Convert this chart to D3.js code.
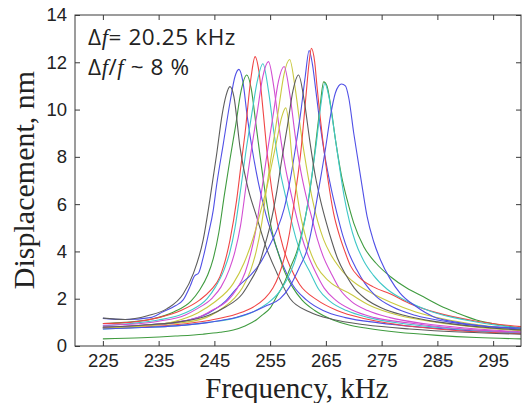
<!DOCTYPE html>
<html><head><meta charset="utf-8">
<script src="https://cdnjs.cloudflare.com/ajax/libs/d3/7.8.5/d3.min.js"></script>
<style>html,body{margin:0;padding:0;background:#fff;}svg{display:block;}</style>
</head><body>
<svg id="chart" width="528" height="403"></svg>
<script>
// ---- data (frequency kHz, displacement nm) ----
const xTicks = [225,235,245,255,265,275,285,295];
const yTicks = [0,2,4,6,8,10,12,14];
const seriesNames = ["b1","g1","r1","c1","m1","y1","k1","b2","g2","r2","c2","m2","y2","k2","b3"];
const seriesColors = ["#5050e6","#3f9b3f","#f04545","#40c8c8","#d24ed2","#c9c940","#5c5c5c",
                      "#5050e6","#3f9b3f","#f04545","#40c8c8","#d24ed2","#c9c940","#5c5c5c","#5050e6"];
const b1 = [[225,1.17],[229,1.12],[233.5,1.2],[235.8,1.45],[238,1.7],[239.4,1.95],[240.6,2.5],[241.4,2.95],[242.2,3.1],[243,3.75],[243.9,4.7],[244.8,5.75],[245.4,6.8],[246.6,8.55],[247.8,10.3],[248.7,11.4],[249.4,11.7],[250.1,11.2],[250.9,9.7],[251.8,8.3],[252.9,6.9],[254.2,5.6],[255.5,4.6],[257,3.6],[259,2.6],[261.5,1.95],[264.5,1.5],[268.5,1.2],[274.5,0.98],[282,0.8],[290,0.66],[300,0.56]];
const g1 = [[225,0.95],[229,1.0],[234,1.15],[237.8,1.45],[240.8,1.9],[242.3,2.35],[243.8,3.0],[244.8,3.7],[245.8,4.8],[246.8,6.4],[247.8,7.9],[248.8,9.3],[249.8,10.8],[250.8,11.46],[251.6,10.9],[252.5,9.3],[253.5,7.5],[254.5,5.9],[255.5,4.7],[256.5,3.9],[257.5,3.2],[259,2.5],[260.7,1.95],[263,1.5],[266.3,1.1],[269,0.9],[272.4,0.75],[278,0.58],[285,0.45],[292,0.36],[300,0.3]];
const r1 = [[225,0.95],[230,1.0],[235,1.2],[239,1.5],[242.4,1.95],[244.3,2.35],[246,2.93],[247.8,4.48],[249,6.18],[249.7,7.5],[250.5,9.0],[251.6,11.4],[252.3,12.24],[253,11.6],[253.8,9.8],[254.4,8.3],[255.3,6.6],[256.3,5.2],[257.3,4.2],[258.6,3.35],[260.3,2.6],[263.4,1.95],[267,1.5],[272,1.15],[278,0.9],[285,0.72],[292,0.6],[300,0.52]];
const c1 = [[225,0.85],[230,0.95],[235,1.1],[238.7,1.3],[240.7,1.5],[243.7,2.0],[245.2,2.5],[246.7,3.2],[247.7,3.9],[248.7,5.0],[249.7,6.6],[250.7,8.3],[251.7,9.8],[252.7,11.2],[253.7,11.94],[254.7,10.8],[255.7,9.0],[256.7,7.5],[257.7,6.4],[258.7,5.4],[259.7,4.5],[260.7,3.8],[262.2,3.1],[263.7,2.4],[265.7,1.9],[268.7,1.5],[272.7,1.2],[278.7,0.95],[285.7,0.78],[292,0.66],[300,0.58]];
const m1 = [[225,0.88],[230,0.92],[235,1.05],[239.7,1.3],[241.7,1.55],[244.7,2.05],[246.2,2.5],[247.7,3.25],[248.7,4.0],[249.7,5.1],[250.7,6.8],[251.7,8.4],[252.7,9.9],[253.7,11.4],[254.7,12.03],[255.7,10.9],[256.7,9.1],[257.7,7.6],[258.7,6.5],[259.7,5.5],[260.7,4.6],[261.7,3.9],[263.2,3.1],[264.7,2.45],[266.7,1.95],[269.7,1.52],[273.7,1.2],[279.7,0.98],[286.7,0.78],[293,0.66],[300,0.58]];
const y1 = [[225,0.78],[232,0.85],[238,0.95],[243.5,1.2],[245.5,1.45],[248.5,2.0],[250,2.45],[251.5,3.2],[252.5,4.0],[253.5,5.2],[254.5,6.9],[255.5,8.5],[256.5,10.0],[257.5,11.5],[258.5,12.12],[259.5,10.9],[260.5,9.1],[261.5,7.6],[262.5,6.3],[263.5,5.3],[264.6,4.5],[265.8,3.9],[267.5,3.3],[269,2.9],[270.6,2.6],[273.5,2.2],[276.6,1.85],[281,1.45],[287,1.1],[293,0.88],[300,0.7]];
const k1 = [[225,1.18],[229,1.12],[233,1.28],[236.5,1.58],[239.4,2.2],[241.2,3.05],[243,4.5],[244.2,6.2],[245.4,8.1],[246.4,9.8],[247.1,10.6],[247.8,10.97],[248.5,10.55],[249.6,8.4],[250.8,6.9],[252.6,5.45],[254.4,4.1],[256.2,3.1],[258.6,2.0],[262,1.45],[266.3,1.12],[272,0.9],[280,0.72],[290,0.58],[300,0.5]];
const b2 = [[225,0.78],[232,0.88],[238,1.0],[244,1.4],[247,1.9],[249.6,2.6],[251.5,3.0],[253.2,3.5],[254.8,4.2],[256.2,4.9],[257.5,5.8],[258.5,6.9],[259.5,8.3],[260.5,9.9],[261.3,11.4],[262,12.5],[262.6,11.9],[263.2,10.8],[264,9.3],[265,7.8],[266,6.6],[267,5.6],[268,4.7],[269,4.0],[270.5,3.25],[272,2.65],[274,2.1],[277,1.65],[281,1.3],[287,1.02],[294,0.82],[300,0.72]];
const g2 = [[225,0.3],[232,0.35],[238,0.42],[243,0.5],[246,0.58],[248.4,0.68],[250.5,0.85],[252.5,1.1],[253.8,1.35],[255,1.6],[256.2,2.1],[257.4,2.6],[258.6,3.3],[259.8,4.0],[260.8,4.9],[261.6,5.8],[262.4,7.0],[263.2,8.6],[263.9,10.0],[264.6,11.17],[265.2,11.0],[265.9,10.1],[266.8,8.6],[267.8,7.2],[268.8,6.2],[270,5.2],[271.8,4.2],[274,3.5],[276.6,2.93],[279.5,2.45],[282.5,2.08],[285.5,1.7],[288.5,1.4],[292,1.1],[296,0.9],[300,0.76]];
const r2 = [[225,0.75],[232,0.8],[238,0.9],[244,1.08],[249,1.35],[252,1.65],[254,2.0],[255.5,2.45],[256.5,2.95],[257.5,3.7],[258.5,4.8],[259.5,6.4],[260.5,8.2],[261.4,10.5],[262,12.0],[262.4,12.59],[263,12.0],[263.4,11.0],[264.4,8.8],[265.4,7.0],[266.4,5.6],[267.4,4.7],[268.4,4.0],[269.4,3.4],[271,2.9],[273.5,2.5],[276.6,2.2],[280,1.8],[285,1.4],[292,1.05],[300,0.82]];
const c2 = [[225,0.72],[232,0.78],[238,0.85],[244,1.0],[249,1.2],[252,1.45],[254.5,1.8],[256.5,2.25],[258,2.8],[259.3,3.5],[260.3,4.3],[261.3,5.4],[262.3,6.9],[263.3,8.6],[264.1,10.2],[264.8,11.1],[265.5,10.6],[266.3,9.4],[267.3,7.8],[268.3,6.3],[269.3,5.2],[270.3,4.4],[271.8,3.6],[273.5,3.0],[276,2.4],[279.5,1.9],[284,1.45],[290,1.1],[295,0.9],[300,0.75]];
const m2 = [[225,0.8],[232,0.88],[238,1.0],[242.5,1.25],[244.5,1.5],[247.5,1.95],[249,2.4],[250.5,3.1],[251.5,3.9],[252.5,5.0],[253.5,6.6],[254.5,8.2],[255.5,9.7],[256.5,11.2],[257.5,11.82],[258.5,10.7],[259.5,8.9],[260.5,7.4],[261.5,6.3],[262.5,5.4],[263.5,4.5],[264.5,3.8],[266,3.05],[267.5,2.4],[269.5,1.9],[272.5,1.5],[276.5,1.2],[282.5,0.95],[290,0.76],[300,0.6]];
const y2 = [[225,0.75],[232,0.85],[238,1.05],[242,1.4],[245,1.85],[248.4,2.65],[250.3,3.5],[252,4.6],[253.3,5.7],[254.4,6.7],[255.4,7.8],[256.2,8.7],[257.1,9.7],[257.8,10.07],[258.4,9.3],[258.9,8.0],[259.6,6.8],[260.4,5.6],[261.5,4.5],[263.4,3.35],[265.5,2.75],[269.4,2.2],[273,1.7],[278,1.3],[285,1.0],[292,0.8],[300,0.65]];
const k2 = [[225,0.8],[232,0.88],[238,1.0],[244,1.3],[247,1.65],[250,2.2],[251.6,2.8],[253.1,3.5],[254.1,4.3],[255.1,5.2],[256.1,6.4],[257.1,7.9],[258.1,9.3],[259.1,10.8],[260.1,11.46],[261.1,10.4],[262.1,8.7],[263.1,7.2],[264.1,6.1],[265.1,5.2],[266.1,4.4],[267.1,3.7],[268.6,3.0],[270.1,2.45],[272.1,2.0],[275.1,1.6],[279,1.3],[285,1.02],[292,0.82],[300,0.68]];
const b3 = [[225,0.72],[232,0.78],[238,0.85],[244,1.0],[249,1.22],[252,1.45],[254.5,1.72],[256.8,2.0],[258.5,2.5],[260.4,3.4],[261.6,4.06],[262.5,5.0],[263.4,6.2],[264.2,7.3],[264.9,8.3],[265.8,9.7],[266.7,10.7],[267.3,11.0],[267.8,11.08],[268.5,11.0],[269.1,10.5],[270,9.0],[270.8,7.8],[271.6,6.6],[272.4,5.47],[273.6,4.4],[274.8,3.64],[276.5,2.85],[278.3,2.24],[281,1.7],[284.3,1.24],[288,1.02],[292,0.88],[296,0.8],[300,0.75]];
const seriesData = [b1,g1,r1,c1,m1,y1,k1,b2,g2,r2,c2,m2,y2,k2,b3];

// ---- layout ----
const L = 75, R = 521, T = 15, B = 346;
const svg = d3.select("#chart");
const x = d3.scaleLinear().domain([220,300]).range([L,R]);
const y = d3.scaleLinear().domain([0,14]).range([B,T]);

const line = d3.line().x(d=>x(d[0])).y(d=>y(d[1])).curve(d3.curveMonotoneX);
const plot = svg.append("g");
seriesData.forEach((s,i)=>{
  plot.append("path").attr("d", line(s)).attr("fill","none")
    .attr("stroke", seriesColors[i]).attr("stroke-width",1.1).attr("stroke-linejoin","round");
});

// axes (inside ticks, all four sides)
const axisColor = "#3a3a3a";
const fontTick = "'Liberation Sans', Arial, sans-serif";
const gB = svg.append("g").attr("transform",`translate(0,${B})`)
  .call(d3.axisBottom(x).tickValues(xTicks).tickSize(-5).tickFormat(d3.format("d")));
const gT = svg.append("g").attr("transform",`translate(0,${T})`)
  .call(d3.axisTop(x).tickValues(xTicks).tickSize(-5).tickFormat(""));
const gL = svg.append("g").attr("transform",`translate(${L},0)`)
  .call(d3.axisLeft(y).tickValues(yTicks).tickSize(-5).tickPadding(8).tickFormat(d3.format("d")));
const gR = svg.append("g").attr("transform",`translate(${R},0)`)
  .call(d3.axisRight(y).tickValues(yTicks).tickSize(-5).tickFormat(""));
[gB,gT,gL,gR].forEach(g=>{
  g.select(".domain").remove();
  g.selectAll(".tick line").attr("stroke",axisColor).attr("stroke-width",1);
  g.selectAll("text").attr("fill","#222").style("font-family",fontTick).style("font-size","18.5px");
});
gB.selectAll(".tick text").attr("dy",null).attr("y",21);
svg.append("rect").attr("x",L).attr("y",T).attr("width",R-L).attr("height",B-T)
  .attr("fill","none").attr("stroke",axisColor).attr("stroke-width",1);

// titles
svg.append("text").attr("x",297).attr("y",398).attr("text-anchor","middle")
  .style("font-family","'Liberation Serif','Times New Roman',serif").style("font-size","29px").attr("fill","#222")
  .text("Frequency, kHz");
svg.append("text").attr("transform","translate(34,180) rotate(-90)").attr("text-anchor","middle")
  .style("font-family","'Liberation Serif','Times New Roman',serif").style("font-size","30px").attr("fill","#222")
  .text("Displacement, nm");

// annotation
const annFont = "'Open Sans', 'Noto Sans', sans-serif";
const a1 = svg.append("text").attr("x",88).attr("y",45).style("font-family",annFont).style("font-size","22.5px")
  .style("letter-spacing","0.6px").attr("fill","#222");
a1.append("tspan").text("Δ");
a1.append("tspan").style("font-family","'Liberation Serif',serif").style("font-style","italic").text("f");
a1.append("tspan").text("= 20.25 kHz");
const a2 = svg.append("text").attr("x",88).attr("y",75).style("font-family",annFont).style("font-size","22.5px")
  .style("letter-spacing","0.6px").attr("fill","#222");
a2.append("tspan").text("Δ");
a2.append("tspan").style("font-family","'Liberation Serif',serif").style("font-style","italic").text("f");
a2.append("tspan").text("/");
a2.append("tspan").style("font-family","'Liberation Serif',serif").style("font-style","italic").text("f");
a2.append("tspan").text(" ~ 8 %");
</script>
</body></html>
